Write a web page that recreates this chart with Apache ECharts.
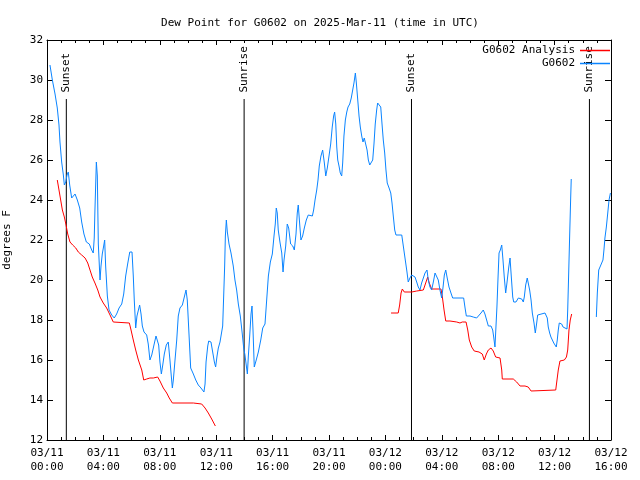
<!DOCTYPE html>
<html>
<head>
<meta charset="utf-8">
<script src="https://cdn.jsdelivr.net/npm/echarts@6/dist/echarts.min.js"></script>
<style>html,body{margin:0;padding:0;background:#fff}#c{width:640px;height:480px}</style>
</head>
<body>
<div id="c"></div>
<script>
// Hours since 2025-03-11 00:00 UTC
const blueTimes = [0.21,0.38,0.57,0.73,0.85,0.92,1.04,1.16,1.23,1.33,1.42,1.51,1.61,1.75,1.87,1.99,2.15,2.32,2.46,2.62,2.79,3.00,3.17,3.28,3.35,3.40,3.50,3.57,3.64,3.76,3.83,3.92,4.02,4.09,4.16,4.28,4.40,4.59,4.77,4.94,5.11,5.30,5.44,5.58,5.72,5.87,6.03,6.12,6.19,6.29,6.38,6.48,6.57,6.67,6.76,6.88,7.07,7.18,7.30,7.43,7.57,7.73,7.82,7.92,8.01,8.11,8.21,8.32,8.46,8.60,8.72,8.79,8.89,8.96,9.08,9.20,9.31,9.43,9.60,9.72,9.86,9.95,10.07,10.19,10.38,10.55,10.73,10.92,11.13,11.21,11.28,11.40,11.47,11.63,11.75,11.87,11.96,12.06,12.15,12.27,12.39,12.46,12.53,12.60,12.65,12.72,12.79,12.91,13.05,13.21,13.33,13.45,13.57,13.71,13.85,13.95,14.04,14.13,14.21,14.28,14.38,14.47,14.54,14.61,14.70,14.84,14.99,15.16,15.30,15.46,15.58,15.70,15.84,15.98,16.10,16.19,16.26,16.33,16.40,16.52,16.65,16.74,16.81,16.93,17.04,17.14,17.21,17.28,17.43,17.54,17.66,17.75,17.82,17.92,18.01,18.13,18.25,18.39,18.53,18.65,18.82,18.91,19.01,19.13,19.22,19.31,19.43,19.55,19.67,19.77,19.88,20.00,20.12,20.23,20.33,20.40,20.48,20.55,20.62,20.71,20.80,20.90,20.97,21.06,21.16,21.26,21.35,21.47,21.58,21.68,21.77,21.87,21.94,22.04,22.13,22.22,22.32,22.41,22.50,22.62,22.70,22.79,22.89,22.98,23.10,23.19,23.28,23.38,23.45,23.57,23.67,23.76,23.85,23.95,24.04,24.13,24.26,24.38,24.47,24.56,24.66,24.75,25.16,25.25,25.34,25.44,25.53,25.62,25.74,25.86,25.98,26.10,26.22,26.33,26.45,26.57,26.69,26.81,26.95,27.04,27.16,27.28,27.40,27.52,27.64,27.75,27.87,27.99,28.09,28.18,28.28,28.37,28.51,28.65,28.77,29.55,29.65,29.74,30.00,30.23,30.47,30.59,30.78,30.94,31.06,31.18,31.30,31.49,31.61,31.68,31.77,31.84,31.91,31.99,32.06,32.15,32.25,32.34,32.43,32.53,32.62,32.75,32.84,32.93,33.03,33.10,33.26,33.43,33.55,33.67,33.78,33.85,33.95,34.06,34.16,34.23,34.33,34.42,34.54,34.63,34.73,34.80,34.89,35.32,35.41,35.48,35.55,35.65,35.74,35.84,35.94,36.03,36.12,36.19,36.26,36.33,36.40,36.50,36.60,36.74,36.88,36.93,37.00,37.07,37.14,37.18,38.0,38.96,39.03,39.13,39.22,39.34,39.43,39.50,39.57,39.67,39.77,39.86,39.96];
const blueValues = [30.75,30.0,29.3,28.6,27.75,26.9,25.9,25.25,24.75,24.9,25.25,25.4,24.75,24.1,24.2,24.3,24.0,23.6,22.9,22.3,21.9,21.8,21.5,21.35,22.1,23.5,25.9,25.2,21.8,20.0,20.7,21.3,21.7,22.0,20.7,19.2,18.5,18.25,18.1,18.3,18.6,18.8,19.3,20.2,20.8,21.4,21.4,20.2,19.0,17.6,18.2,18.3,18.75,18.3,17.7,17.4,17.25,16.8,16.0,16.25,16.7,17.2,17.3,16.75,15.9,15.3,15.75,16.3,16.75,16.9,16.0,15.4,14.6,15.0,16.0,17.0,18.2,18.6,18.75,19.1,19.5,19.0,17.3,15.6,15.3,15.0,14.75,14.6,14.4,14.8,15.9,16.7,16.95,16.9,16.4,15.9,15.65,16.2,16.6,16.9,16.9,17.7,19.2,20.7,22.2,23.0,22.4,21.8,21.35,20.7,20.0,19.5,18.8,18.2,17.3,16.6,16.25,15.75,15.3,16.2,17.25,18.3,18.7,17.5,15.65,16.0,16.4,17.0,17.6,17.8,19.0,20.2,20.9,21.3,22.2,22.8,23.6,23.35,22.5,21.9,21.35,20.4,21.0,21.7,22.8,22.6,22.2,21.8,21.7,21.5,22.3,23.35,23.75,22.8,22.0,22.2,22.6,23.0,23.25,23.2,23.2,23.5,24.0,24.5,25.0,25.7,26.2,26.5,25.85,25.2,25.6,26.2,26.8,27.65,28.2,28.4,27.8,26.65,26.0,25.7,25.35,25.2,25.85,27.2,28.0,28.4,28.65,28.8,29.1,29.5,29.85,30.35,29.85,29.0,28.2,27.65,27.2,26.9,27.1,27.2,26.5,26.0,25.75,25.85,26.0,26.8,27.8,28.5,28.85,28.75,28.65,27.8,27.0,26.35,25.5,24.85,24.6,24.35,23.85,23.2,22.5,22.25,22.25,21.8,21.35,20.85,20.4,19.9,20.1,20.25,20.35,20.15,19.9,19.65,19.5,19.85,20.1,20.35,20.5,20.0,19.65,19.5,19.9,20.35,20.25,20.0,19.5,19.1,19.65,20.25,20.5,20.15,19.65,19.35,19.1,19.1,18.6,18.2,18.2,18.15,18.1,18.15,18.35,18.5,18.3,18.0,17.7,17.7,17.5,17.15,16.65,17.65,18.65,20.15,21.35,21.5,21.75,21.0,20.15,19.35,19.85,20.65,21.1,20.15,19.15,18.9,18.9,19.1,19.15,19.05,18.9,19.15,19.75,20.1,20.15,19.5,19.0,18.35,17.85,17.35,17.85,18.25,18.35,18.35,18.4,18.1,17.65,17.35,17.15,17.0,16.85,16.75,16.65,17.0,17.5,17.85,17.9,17.8,17.65,17.55,17.55,18.5,20.35,22.25,24.1,25.05,null,18.15,19.35,20.5,20.65,20.75,21.0,21.5,22.1,22.65,23.35,24.0,24.35];

const redTimes = [0.73,0.85,0.97,1.09,1.23,1.35,1.47,1.63,1.82,2.04,2.22,2.46,2.70,2.89,3.05,3.21,3.40,3.60,3.76,3.99,4.23,4.47,4.70,4.82,5.84,5.96,6.12,6.29,6.48,6.72,6.86,7.07,7.30,7.54,7.85,8.01,8.25,8.49,8.67,8.89,10.38,10.97,11.21,11.44,11.68,11.94,18.0,24.40,24.91,25.01,25.11,25.20,25.34,25.87,26.22,26.69,26.81,27.00,27.11,27.28,27.94,28.04,28.16,28.28,28.58,29.06,29.29,29.45,29.72,29.84,29.95,30.12,30.30,30.64,30.87,31.01,31.16,31.30,31.49,31.65,31.82,32.13,32.25,32.29,33.07,33.31,33.55,33.90,34.13,34.33,36.08,36.17,36.26,36.38,36.69,36.84,36.93,37.02,37.11,37.21];
const redValues = [25.0,24.5,24.0,23.5,23.15,22.75,22.3,21.9,21.75,21.6,21.4,21.25,21.1,20.85,20.5,20.15,19.85,19.5,19.15,18.85,18.6,18.25,17.9,17.85,17.85,17.5,17.0,16.5,16.0,15.5,15.0,15.05,15.1,15.1,15.15,14.95,14.6,14.35,14.1,13.85,13.85,13.8,13.6,13.35,13.05,12.7,null,18.35,18.35,18.75,19.35,19.55,19.4,19.4,19.45,19.5,19.75,20.15,19.85,19.55,19.55,19.15,18.5,17.95,17.95,17.9,17.85,17.9,17.9,17.5,17.0,16.65,16.45,16.4,16.3,16.0,16.3,16.5,16.6,16.45,16.15,16.1,15.5,15.05,15.05,14.9,14.7,14.7,14.65,14.45,14.5,15.0,15.5,15.95,16.0,16.15,16.5,17.5,18.0,18.3];

const sunTimes = [1.37, 13.98, 25.85, 38.47];
const sunLabels = ['Sunset', 'Sunrise', 'Sunset', 'Sunrise'];
const sunLineTop = 29.05;

const xTickLabels = ['03/11\n00:00','03/11\n04:00','03/11\n08:00','03/11\n12:00','03/11\n16:00','03/11\n20:00','03/12\n00:00','03/12\n04:00','03/12\n08:00','03/12\n12:00','03/12\n16:00'];

const FONT = 'DejaVu Sans Mono';
const RED = '#ff0000';
const BLUE = '#0a84ff';
function pairs(ts, vs) { return ts.map((t, i) => vs[i] === null ? [t, '-'] : [t, vs[i]]); }

const sunData = [];
sunTimes.forEach((t, i) => {
  sunData.push([t, 12]);
  sunData.push({ value: [t, sunLineTop], label: { show: true, formatter: sunLabels[i] } });
  sunData.push([t, '-']);
});

const chart = echarts.init(document.getElementById('c'), null, { renderer: 'canvas' });
const axisCommon = {
  axisLine: { show: true, onZero: false, lineStyle: { color: '#000', width: 1 } },
  splitLine: { show: false },
};
chart.setOption({
  animation: false,
  backgroundColor: '#fff',
  title: {
    text: 'Dew Point for G0602 on 2025-Mar-11 (time in UTC)',
    left: 315, textAlign: 'center', top: 13,
    textStyle: { fontFamily: FONT, fontSize: 11, fontWeight: 'normal', color: '#000' }
  },
  legend: {
    data: [
      { name: 'G0602 Analysis', itemStyle: { color: RED } },
      { name: 'G0602', itemStyle: { color: BLUE } }
    ],
    orient: 'vertical', right: 25, top: 39, align: 'right',
    itemWidth: 30, itemHeight: 1.5, itemGap: 0,
    textStyle: { fontFamily: FONT, fontSize: 11, color: '#000', lineHeight: 13 },
    icon: 'rect', itemStyle: { borderWidth: 0 }
  },
  grid: { left: 47, right: 29, top: 40, bottom: 40, containLabel: false, outerBoundsMode: 'none' },
  xAxis: [
    Object.assign({}, axisCommon, {
      type: 'value', min: 0, max: 40, interval: 4, position: 'bottom',
      axisTick: { show: true, inside: true, length: 5, lineStyle: { color: '#000' } },
      minorTick: { show: true, splitNumber: 4, length: 3, lineStyle: { color: '#000' } },
      axisLabel: { fontFamily: FONT, fontSize: 11, color: '#000', margin: 6, lineHeight: 14,
        formatter: v => xTickLabels[Math.round(v / 4)] }
    }),
    Object.assign({}, axisCommon, {
      type: 'value', min: 0, max: 40, interval: 4, position: 'top',
      axisTick: { show: true, inside: true, length: 5, lineStyle: { color: '#000' } },
      minorTick: { show: true, splitNumber: 4, length: 3, lineStyle: { color: '#000' } },
      axisLabel: { show: false }
    })
  ],
  yAxis: [
    Object.assign({}, axisCommon, {
      type: 'value', min: 12, max: 32, interval: 2, position: 'left',
      name: 'degrees F', nameLocation: 'middle', nameGap: 34,
      nameTextStyle: { fontFamily: FONT, fontSize: 11, color: '#000' },
      axisTick: { show: true, inside: true, length: 6, lineStyle: { color: '#000' } },
      axisLabel: { fontFamily: FONT, fontSize: 11, color: '#000', margin: 4 }
    }),
    Object.assign({}, axisCommon, {
      type: 'value', min: 12, max: 32, interval: 2, position: 'right',
      axisTick: { show: true, inside: true, length: 6, lineStyle: { color: '#000' } },
      axisLabel: { show: false }
    })
  ],
  series: [
    {
      name: 'Sun', type: 'line', data: sunData, xAxisIndex: 0, yAxisIndex: 0,
      symbol: 'circle', symbolSize: 1, showSymbol: true,
      itemStyle: { color: 'rgba(0,0,0,0)' },
      lineStyle: { color: '#000', width: 1 },
      connectNulls: false, silent: true,
      label: { show: false, position: 'top', distance: 6, rotate: 90, align: 'left', verticalAlign: 'middle',
        fontFamily: FONT, fontSize: 11, color: '#000' },
      z: 1
    },
    {
      name: 'G0602 Analysis', type: 'line', data: pairs(redTimes, redValues),
      symbol: 'none', connectNulls: false,
      lineStyle: { color: RED, width: 1 }, itemStyle: { color: RED }, z: 2
    },
    {
      name: 'G0602', type: 'line', data: pairs(blueTimes, blueValues),
      symbol: 'none', connectNulls: false,
      lineStyle: { color: BLUE, width: 1 }, itemStyle: { color: BLUE }, z: 3
    }
  ]
});
</script>
</body>
</html>
